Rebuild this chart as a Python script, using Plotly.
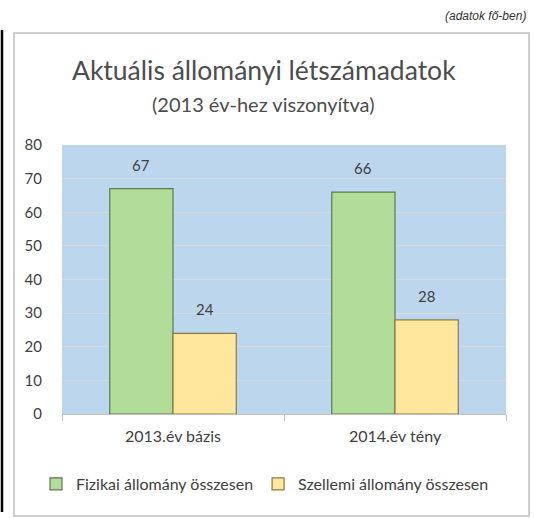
import plotly.graph_objects as go

categories = ["2013.év bázis", "2014.év tény"]
fizikai = [67, 66]
szellemi = [24, 28]
series_names = ["Fizikai állomány összesen", "Szellemi állomány összesen"]
y_ticks = [0, 10, 20, 30, 40, 50, 60, 70, 80]

W, H = 534, 518
L, R, T, B = 62, 28, 145, 104
pw, ph = W - L - R, H - T - B
BARGAP = 0.43

def px(x):
    return (x - L) / pw

def py(y):
    return (H - B - y) / ph

FONT = "Lato"
TXT = "#404040"

fig = go.Figure()
fig.add_trace(go.Bar(
    x=categories, y=fizikai, name=series_names[0],
    marker=dict(color="#B2DC99", line=dict(color="#5E7A4C", width=1.2)),
))
fig.add_trace(go.Bar(
    x=categories, y=szellemi, name=series_names[1],
    marker=dict(color="#FFE89D", line=dict(color="#8A7A45", width=1.2)),
))

# value labels above bars (offset by half a bar width within the group)
bar_px = pw / len(categories) * (1 - BARGAP) / 2
for vals, sgn in ((fizikai, -1), (szellemi, 1)):
    for cat, v in zip(categories, vals):
        fig.add_annotation(x=cat, y=v, text=str(v), showarrow=False,
                           xshift=sgn * bar_px / 2, yshift=13, yanchor="bottom",
                           font=dict(family=FONT, size=15, color=TXT))

fig.update_layout(
    width=W, height=H,
    margin=dict(l=L, r=R, t=T, b=B),
    paper_bgcolor="white",
    plot_bgcolor="#BCD6EE",
    barmode="group",
    bargap=BARGAP,
    bargroupgap=0,
    showlegend=True,
    legend=dict(orientation="h", x=px(36), xanchor="left", y=py(484), yanchor="middle",
                font=dict(family=FONT, size=16, color=TXT), itemwidth=30,
                traceorder="normal", tracegroupgap=0),
    font=dict(family=FONT, color=TXT),
)
fig.update_xaxes(
    showline=True, linecolor="#BFBFBF", linewidth=1,
    ticks="outside", tickson="boundaries", ticklen=6, tickcolor="#BFBFBF",
    showgrid=False,
    tickfont=dict(family=FONT, size=16, color=TXT),
    ticklabelstandoff=8,
)
fig.update_yaxes(
    range=[0, 80], tickvals=y_ticks,
    showgrid=True, gridcolor="#D9D9D9", gridwidth=1,
    zeroline=False, showline=False,
    tickfont=dict(family=FONT, size=15, color=TXT),
    ticklabelstandoff=19,
)

# chart frame and left black line
fig.add_shape(type="rect", xref="paper", yref="paper",
              x0=px(14), x1=px(529), y0=py(516), y1=py(33),
              line=dict(color="#BFBFBF", width=1.5), layer="below")
fig.add_shape(type="line", xref="paper", yref="paper",
              x0=px(2), x1=px(2), y0=py(512), y1=py(30),
              line=dict(color="black", width=2.5))

fig.add_annotation(text="Aktuális állományi létszámadatok", xref="paper", yref="paper",
                   x=px(264), y=py(70), showarrow=False, xanchor="center", yanchor="middle",
                   font=dict(family=FONT, size=26.5, color="#4D4D4D"))
fig.add_annotation(text="(2013 év-hez viszonyítva)", xref="paper", yref="paper",
                   x=px(263), y=py(104), showarrow=False, xanchor="center", yanchor="middle",
                   font=dict(family=FONT, size=20, color="#4D4D4D"))
fig.add_annotation(text="<i>(adatok fő-ben)</i>", xref="paper", yref="paper",
                   x=px(528), y=py(16), showarrow=False, xanchor="right", yanchor="middle",
                   font=dict(family="Liberation Sans", size=12, color="#333333"))

fig.write_html("out.html", config={"displayModeBar": False},
               post_script="document.body.style.margin='0';")
